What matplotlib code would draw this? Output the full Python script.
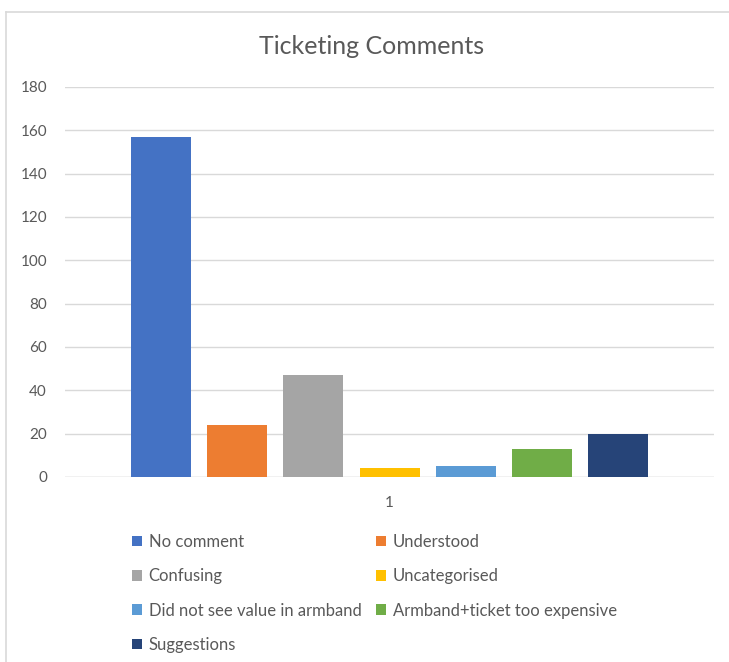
import matplotlib
matplotlib.use("Agg")
import matplotlib.pyplot as plt
from matplotlib.lines import Line2D
from matplotlib.patches import Patch

categories = ["No comment", "Understood", "Confusing", "Uncategorised",
              "Did not see value in armband", "Armband+ticket too expensive",
              "Suggestions"]
counts = [157, 24, 47, 4, 5, 13, 20]
colors = ["#4472c4", "#ed7d31", "#a5a5a5", "#ffc000", "#5b9bd5", "#70ad47", "#264478"]
x_label = "1"
y_ticks = list(range(0, 181, 20))

text_color = "#595959"
grid_color = "#d9d9d9"

plt.rcParams["font.family"] = ["Lato", "DejaVu Sans"]

fig = plt.figure(figsize=(7.29, 6.62), dpi=100)
ax = fig.add_axes([65 / 729, 1 - 477 / 662, 649 / 729, 390 / 662])

step = 76.3 / 649
width = 60 / 649
n = len(counts)
for i, (cat, val, col) in enumerate(zip(categories, counts, colors)):
    ax.bar((i - (n - 1) / 2) * step, val, width=width, color=col, label=cat, zorder=3)

ax.set_xlim(-0.5, 0.5)
ax.set_ylim(0, 180)
ax.set_yticks(y_ticks)
ax.set_xticks([0])
ax.set_xticklabels([x_label])
ax.tick_params(length=0, colors=text_color, labelsize=11)
ax.tick_params(axis="y", pad=13)
ax.tick_params(axis="x", pad=14)
ax.grid(axis="y", color=grid_color, linewidth=1, zorder=0)
for side in ["top", "right", "left", "bottom"]:
    ax.spines[side].set_visible(False)
ax.axhline(0, color=grid_color, linewidth=1, zorder=1)

fig.text(372 / 729, 1 - 47 / 662, "Ticketing Comments", ha="center", va="center",
         fontsize=18, color=text_color)

# chart border (top and left visible)
fig.add_artist(Line2D([6 / 729, 6 / 729], [0, 1 - 12 / 662], transform=fig.transFigure,
                      color=grid_color, linewidth=1.2))
fig.add_artist(Line2D([6 / 729, 1], [1 - 12 / 662, 1 - 12 / 662], transform=fig.transFigure,
                      color=grid_color, linewidth=1.2))

handles = [Patch(facecolor=c) for c in colors]
order = [0, 2, 4, 6, 1, 3, 5]
leg = fig.legend([handles[i] for i in order], [categories[i] for i in order],
                 ncol=2, loc="upper left", bbox_to_anchor=(132 / 729, 1 - 534 / 662),
                 frameon=False, fontsize=12, handlelength=0.6, handleheight=0.6,
                 handletextpad=0.4, columnspacing=0.9, labelspacing=1.1,
                 borderpad=0, borderaxespad=0)
for t in leg.get_texts():
    t.set_color(text_color)

fig.savefig("out.png", dpi=100)
